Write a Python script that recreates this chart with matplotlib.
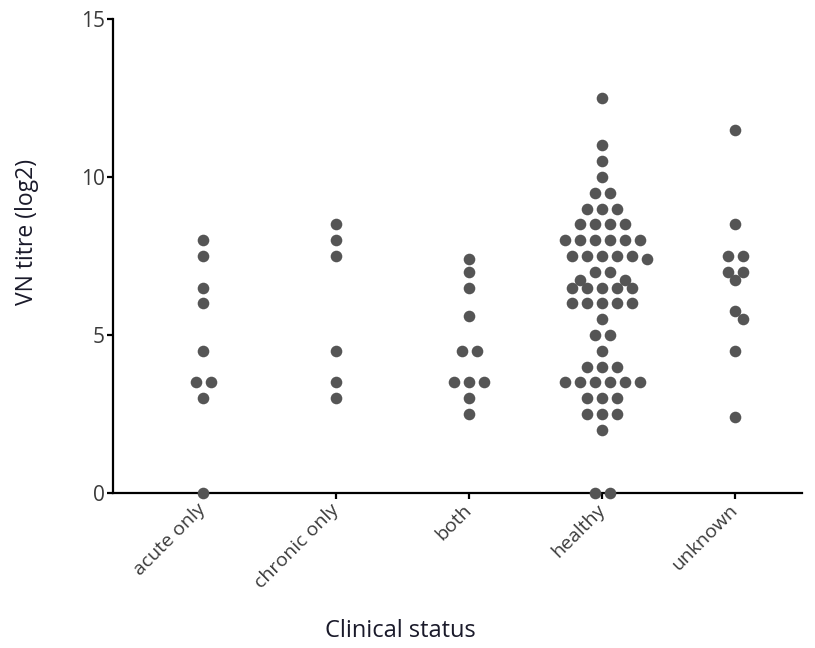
import numpy as np
import matplotlib.pyplot as plt

# data (VN titre, log2) per clinical group
categories = ['acute only', 'chronic only', 'both', 'healthy', 'unknown']
acute_only = [8, 7.5, 6.5, 6, 4.5, 3.5, 3.5, 3, 0]
chronic_only = [8.5, 8, 7.5, 4.5, 3.5, 3]
both = [7.4, 7, 6.5, 5.6, 4.5, 4.5, 3.5, 3.5, 3.5, 3, 2.5]
healthy = ([12.5, 11, 10.5, 10] + [9.5] * 2 + [9] * 3 + [8.5] * 4 + [8] * 6
           + [7.5] * 5 + [7.4] + [7] * 2 + [6.75] * 2 + [6.5] * 5 + [6] * 5
           + [5.5] + [5] * 2 + [4.5] + [4] * 3 + [3.5] * 6 + [3] * 3
           + [2.5] * 3 + [2] + [0] * 2)
unknown = [11.5, 8.5, 7.5, 7.5, 7, 7, 6.75, 5.75, 5.5, 4.5, 2.4]
groups = [acute_only, chronic_only, both, healthy, unknown]

DOT = '#555555'
TXT = '#3a3a3a'

plt.rcParams['font.family'] = ['Open Sans', 'DejaVu Sans']

fig = plt.figure(figsize=(8.15, 6.48), dpi=100)
ax = fig.add_axes([0.1387, 0.2392, 0.8453, 0.7315])
ax.set_xlim(-0.677, 4.5)
ax.set_ylim(0, 15)


def swarm(values, sx, sy, step=15.0, thr=10.5):
    """Simple beeswarm: equal values side by side, others pushed out of the way.
    sx, sy are pixels per data unit; returns x offsets in data units."""
    vals = np.asarray(values, float)
    uniq, counts = np.unique(vals, return_counts=True)
    order = sorted(range(len(uniq)), key=lambda i: (-counts[i], -uniq[i]))
    placed = []
    offs = {}
    h = step / 2
    for i in order:
        v, n = uniq[i], counts[i]
        y = v * sy
        if n == 1:
            cands = [np.array([0.0])]
            for k in range(1, 12):
                cands += [np.array([k * h]), np.array([-k * h])]
        else:
            base = (np.arange(n) - (n - 1) / 2) * step
            cands = [base + np.sign(base) * k * h for k in range(12)]
        for xs in cands:
            ok = all((x - px) ** 2 + (y - py) ** 2 >= thr ** 2
                     for x in xs for (px, py) in placed)
            if ok:
                break
        placed += [(x, y) for x in xs]
        offs[v] = list(xs / sx)
    return [offs[v].pop(0) for v in vals]


fig.canvas.draw()
p0 = ax.transData.transform((0, 0))
p1 = ax.transData.transform((1, 1))
sx, sy = p1[0] - p0[0], p1[1] - p0[1]

for i, vals in enumerate(groups):
    dx = swarm(vals, sx, sy)
    ax.scatter(np.array(dx) + i, vals, s=70, color=DOT, linewidths=0,
               zorder=3, clip_on=False)

for side in ['top', 'right']:
    ax.spines[side].set_visible(False)
for side in ['left', 'bottom']:
    ax.spines[side].set_linewidth(1.6)
    ax.spines[side].set_color('black')

ax.set_yticks([0, 5, 10, 15])
ax.set_xticks(range(len(categories)))
ax.set_xticklabels(categories, rotation=45, ha='right', va='center',
                   rotation_mode='anchor')
ax.tick_params(axis='both', direction='out', length=4, width=1.6, color='black')
ax.tick_params(axis='y', labelsize=15, labelcolor=TXT, pad=2)
ax.tick_params(axis='x', labelsize=14, labelcolor=TXT, pad=6)

ax.set_ylabel('VN titre (log2)', fontsize=16.5, color='#1a1a2a')
ax.yaxis.set_label_coords(-0.107, 0.55)
ax.set_xlabel('Clinical status', fontsize=17, color='#1a1a2a')
ax.xaxis.set_label_coords(0.417, -0.265)

fig.savefig('out.png', dpi=100)
